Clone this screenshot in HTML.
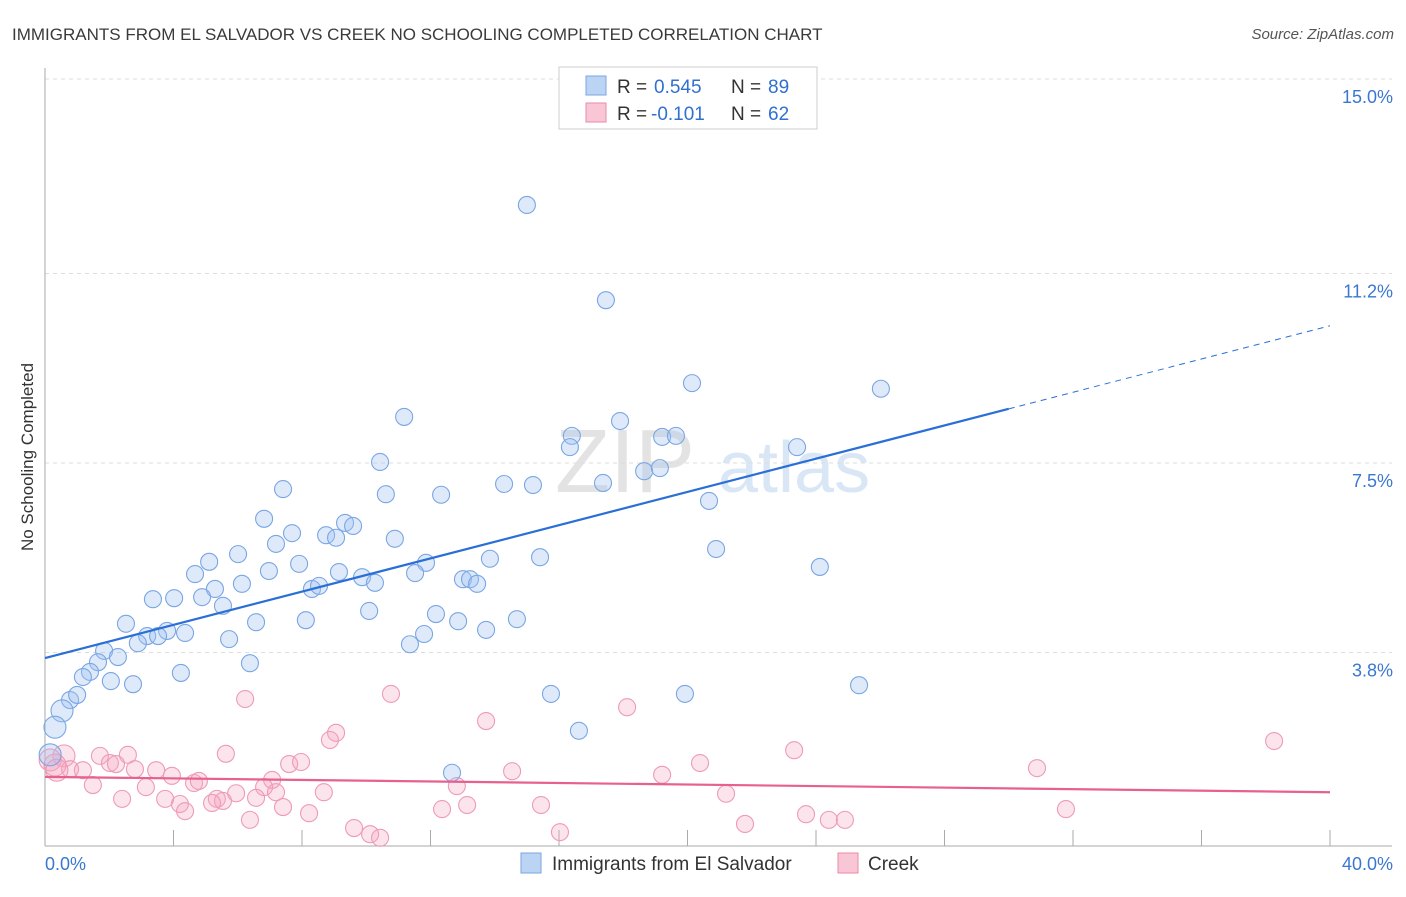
<!DOCTYPE html>
<html><head><meta charset="utf-8"><style>
body{margin:0;background:#fff;font-family:"Liberation Sans",sans-serif}
svg text{font-family:"Liberation Sans",sans-serif}
</style></head><body>
<svg id="chart" width="1406" height="892" xmlns="http://www.w3.org/2000/svg">
<text x="12" y="40" font-size="17" fill="#3a3a3a">IMMIGRANTS FROM EL SALVADOR VS CREEK NO SCHOOLING COMPLETED CORRELATION CHART</text>
<text x="1394" y="39" font-size="15" fill="#555" text-anchor="end" font-style="italic">Source: ZipAtlas.com</text>
<text x="0" y="0" transform="translate(33,457) rotate(-90)" font-size="17" fill="#333" text-anchor="middle">No Schooling Completed</text>
<g><text x="555" y="492" font-size="90" fill="#ddd" font-family="Liberation Serif" opacity="0.8">ZIP</text><text x="718" y="492" font-size="72" fill="#cfe0f4" opacity="0.8">atlas</text></g>
<g id="grid"></g><g id="axes"></g><g id="pts"></g><g id="trends"></g>
<g>
<rect x="559" y="67" width="258" height="62" fill="#fff" stroke="#ccc"/>
<rect x="586" y="76" width="20" height="19" fill="#bcd4f4" stroke="#7aa6e0"/>
<text y="93" font-size="19" fill="#333"><tspan x="617">R =</tspan><tspan x="654" fill="#3070d0">0.545</tspan><tspan x="731">N =</tspan><tspan x="768" fill="#3070d0">89</tspan></text>
<rect x="586" y="103" width="20" height="19" fill="#f9c6d6" stroke="#e98aab"/>
<text y="120" font-size="19" fill="#333"><tspan x="617">R =</tspan><tspan x="651" fill="#3070d0">-0.101</tspan><tspan x="731">N =</tspan><tspan x="768" fill="#3070d0">62</tspan></text>
</g>
<g>
<rect x="521" y="853" width="20" height="20" fill="#bcd4f4" stroke="#7aa6e0"/>
<text x="552" y="870" font-size="19" fill="#333">Immigrants from El Salvador</text>
<rect x="838" y="853" width="20" height="20" fill="#f9c6d6" stroke="#e98aab"/>
<text x="868" y="870" font-size="19" fill="#333">Creek</text>
</g>
</svg>
<script>
const yTicks=[3.8,7.5,11.2,15.0];
const yTickLabels=["3.8%","7.5%","11.2%","15.0%"];
const xTickLabels=["0.0%","40.0%"];
const blueX=[15.0,17.46,20.14,26.02,11.18,17.90,16.40,16.34,19.21,19.64,23.41,10.43,18.65,19.14,7.41,10.61,12.33,14.29,15.19,17.37,20.67,6.82,7.69,8.75,9.06,9.34,9.59,10.89,7.19,6.01,5.11,20.89,15.41,13.85,11.86,6.97,7.91,9.15,24.12,4.67,6.13,5.29,9.87,10.27,11.52,13.01,13.23,13.45,8.31,8.53,3.36,4.02,4.89,5.54,10.09,12.17,12.86,14.69,13.73,2.52,3.80,4.36,8.12,6.57,3.18,3.52,2.89,5.73,11.80,11.36,1.84,2.27,1.65,6.38,1.40,1.18,2.05,2.74,4.23,0.78,1.00,15.75,19.92,25.34,0.53,0.31,16.62,12.67,0.16];
const blueY=[12.54,10.68,9.06,8.95,8.40,8.32,8.03,7.81,8.01,8.03,7.81,7.52,7.34,7.40,6.99,6.89,6.88,7.09,7.07,7.11,6.76,6.41,6.13,6.09,6.04,6.33,6.27,6.02,5.92,5.72,5.57,5.82,5.66,5.63,5.55,5.39,5.53,5.37,5.47,5.33,5.14,5.04,5.27,5.16,5.35,5.23,5.23,5.14,5.04,5.10,4.84,4.86,4.88,4.71,4.61,4.55,4.41,4.45,4.24,4.36,4.22,4.18,4.43,4.39,4.12,4.12,3.98,4.06,4.16,3.96,3.83,3.71,3.61,3.59,3.42,3.32,3.24,3.18,3.40,2.87,2.97,2.99,2.99,3.16,2.66,2.34,2.27,1.45,1.80];
const pinkX=[6.23,10.77,18.12,13.73,9.06,8.87,38.26,5.63,1.71,2.58,0.59,23.32,2.02,2.21,7.60,7.97,20.39,3.46,2.80,0.78,1.18,30.88,19.21,14.54,3.95,4.64,4.79,7.07,6.82,1.49,3.14,7.19,8.68,5.95,12.82,5.35,5.54,3.74,2.40,4.20,4.36,5.20,6.57,7.41,12.36,13.14,15.44,21.20,8.22,31.78,23.69,6.38,9.62,21.79,24.40,24.90,10.12,10.43,16.03,0.31,0.16,0.37];
const pinkY=[2.89,2.99,2.73,2.46,2.23,2.09,2.07,1.82,1.78,1.80,1.78,1.89,1.64,1.62,1.62,1.66,1.64,1.50,1.52,1.52,1.50,1.54,1.41,1.48,1.39,1.25,1.29,1.31,1.17,1.21,1.17,1.07,1.07,1.05,1.19,0.94,0.90,0.94,0.94,0.84,0.70,0.86,0.96,0.78,0.74,0.82,0.82,1.04,0.66,0.74,0.64,0.53,0.37,0.45,0.53,0.53,0.25,0.18,0.29,1.60,1.70,1.50];
const blueTrend=[3.69,10.18];
const pinkTrend=[1.37,1.07];
const NS="http://www.w3.org/2000/svg";
const X=v=>45+v*(1285/40), Y=v=>847-v*51.2;
function mk(p,tag,a){const e=document.createElementNS(NS,tag);for(const k in a)e.setAttribute(k,a[k]);p.appendChild(e);return e;}
const grid=document.getElementById('grid'),axes=document.getElementById('axes'),pts=document.getElementById('pts'),tr=document.getElementById('trends');
yTicks.forEach((t,i)=>{
 const l=mk(grid,'line',{x1:45,x2:1392,y1:Y(t),y2:Y(t),stroke:'#ddd','stroke-dasharray':'4,4'});
 
 
 const tx=mk(axes,'text',{x:1393,y:Y(t)+24,'font-size':18,fill:'#3a78d0','text-anchor':'end'});
 tx.textContent=yTickLabels[i];
 
 
});
const ya=mk(axes,'line',{x1:45,x2:45,y1:68,y2:846,stroke:'#aaa'});


const xa=mk(axes,'line',{x1:45,x2:1392,y1:846,y2:846,stroke:'#aaa'});


for(let i=1;i<=10;i++){const t=mk(axes,'line',{x1:X(i*4),x2:X(i*4),y1:830,y2:846,stroke:'#aaa'});
 
 }
[[0,'start',45],[40,'end',1393]].forEach((d,i)=>{const t=mk(axes,'text',{x:d[2],y:870,'font-size':18,fill:'#3a78d0','text-anchor':d[1]});t.textContent=xTickLabels[i];
 
 });
function dots(xs,ys,fill,stroke,name){xs.forEach((x,i)=>{const r=x<0.6?11:8.5;const c=mk(pts,'circle',{cx:X(x),cy:Y(ys[i]),r:r,fill:fill,stroke:stroke,'stroke-width':1.1});
 
 });}
dots(pinkX,pinkY,'rgba(244,165,192,0.3)','#ee9ab8','creek-point');
dots(blueX,blueY,'rgba(160,195,240,0.35)','#7aa6e4','el-salvador-point');
const bx=30;const by=blueTrend[0]+(blueTrend[1]-blueTrend[0])*bx/40;
const b1=mk(tr,'line',{x1:X(0),y1:Y(blueTrend[0]),x2:X(bx),y2:Y(by),stroke:'#2a6fd6','stroke-width':2.2});


const b2=mk(tr,'line',{x1:X(bx),y1:Y(by),x2:X(40),y2:Y(blueTrend[1]),stroke:'#2a6fd6','stroke-width':1,'stroke-dasharray':'6,5'});


const p1=mk(tr,'line',{x1:X(0),y1:Y(pinkTrend[0]),x2:X(40),y2:Y(pinkTrend[1]),stroke:'#e8608c','stroke-width':2.2});


</script>
</body></html>
